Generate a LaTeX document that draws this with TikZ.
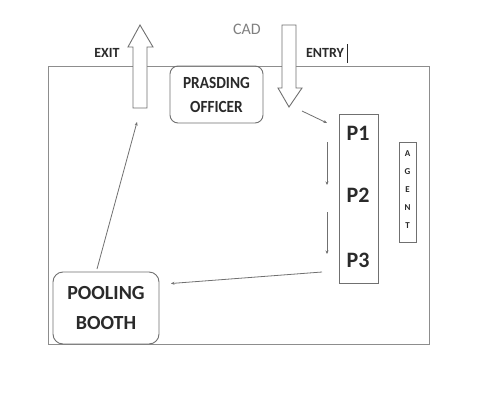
\documentclass[tikz,border=0pt]{standalone}
\usepackage{fontspec}
\setmainfont{Carlito}
\usetikzlibrary{arrows.meta}
\definecolor{lin}{HTML}{707070}
\definecolor{txt}{HTML}{2a2a2a}
\tikzset{
  box/.style={draw=lin, line width=0.9pt, rounded corners=8pt, inner sep=0pt},
  plain/.style={draw=lin, line width=0.9pt, inner sep=0pt},
  lbl/.style={text=txt, font=\bfseries, inner sep=0pt},
  conn/.style={draw=lin, line width=0.8pt, -{Stealth[length=3.5pt,width=3pt]}},
  blockarrow/.style={draw=lin, line width=0.9pt, fill=white, line join=miter},
}
\begin{document}
\begin{tikzpicture}[x=1pt,y=-1pt]
\useasboundingbox (0,0) rectangle (480,405);
\fill[white] (0,0) rectangle (480,405);
% outer frame
\draw[draw=lin!80, line width=1pt] (48,66) rectangle (429,344);
% exit arrow
\draw[blockarrow] (133,108) -- (133,47) -- (128,47) -- (140,25) -- (153,47) -- (147,47) -- (147,108) -- cycle;
\coordinate (exitbot) at (137,122);
% entry arrow
\draw[blockarrow] (282,25) -- (282,88) -- (278,88) -- (289,107) -- (302,88) -- (296,88) -- (296,25) -- cycle;
\coordinate (entrytip) at (302,111);
% labels
\node[lbl, font=\bfseries\fontsize{14}{16}\selectfont] (exit) at (107,53) {EXIT};
\node[lbl, font=\bfseries\fontsize{14}{16}\selectfont] (entry) at (325,53) {ENTRY};
\draw[txt, line width=0.8pt] (347,44) -- (347,63);
\node[inner sep=0pt, text=black!50, font=\fontsize{16}{18}\selectfont] (cad) at (247,29) {CAD};
% presiding officer
\node[box, minimum width=93pt, minimum height=57pt] (po) at (216.5,94.5) {};
\node[lbl, font=\bfseries\fontsize{17}{24}\selectfont, align=center] (potext) at (216.5,95) {\scalebox{0.9}[1]{PRASDING}\\\scalebox{0.9}[1]{OFFICER}};
% P column
\node[plain, minimum width=39pt, minimum height=169pt] (pcol) at (358.5,198.5) {};
\node[lbl, font=\bfseries\fontsize{22}{24}\selectfont] (p1) at (358,133) {P1};
\node[lbl, font=\bfseries\fontsize{22}{24}\selectfont] (p2) at (358,195) {P2};
\node[lbl, font=\bfseries\fontsize{22}{24}\selectfont] (p3) at (358,260) {P3};
% agent
\node[plain, minimum width=17pt, minimum height=100pt] (agent) at (407.5,192) {};
\foreach \l/\y [count=\i] in {A/154,G/172,E/190,N/208,T/226}
  \node[lbl, font=\bfseries\fontsize{9}{10}\selectfont] (ag\i) at (407.5,\y) {\l};
% pooling booth
\node[box, minimum width=106pt, minimum height=72pt, rounded corners=10pt] (pb) at (106,308) {};
\node[lbl, font=\bfseries\fontsize{20}{30}\selectfont, align=center] (pbtext) at (106,308) {POOLING\\BOOTH};
% connector points
\coordinate (c1) at (327,123);
\coordinate (c2a) at (327,142);
\coordinate (c2b) at (327,185);
\coordinate (c3a) at (327,212);
\coordinate (c3b) at (327,254);
\coordinate (c4a) at (322,272);
\coordinate (c4b) at (171,283.5);
\coordinate (c5a) at (97,269);
% connectors
\draw[conn] (entrytip) -- (c1);
\draw[conn] (c2a) -- (c2b);
\draw[conn] (c3a) -- (c3b);
\draw[conn] (c4a) -- (c4b);
\draw[conn] (c5a) -- (exitbot);
\end{tikzpicture}
\end{document}
